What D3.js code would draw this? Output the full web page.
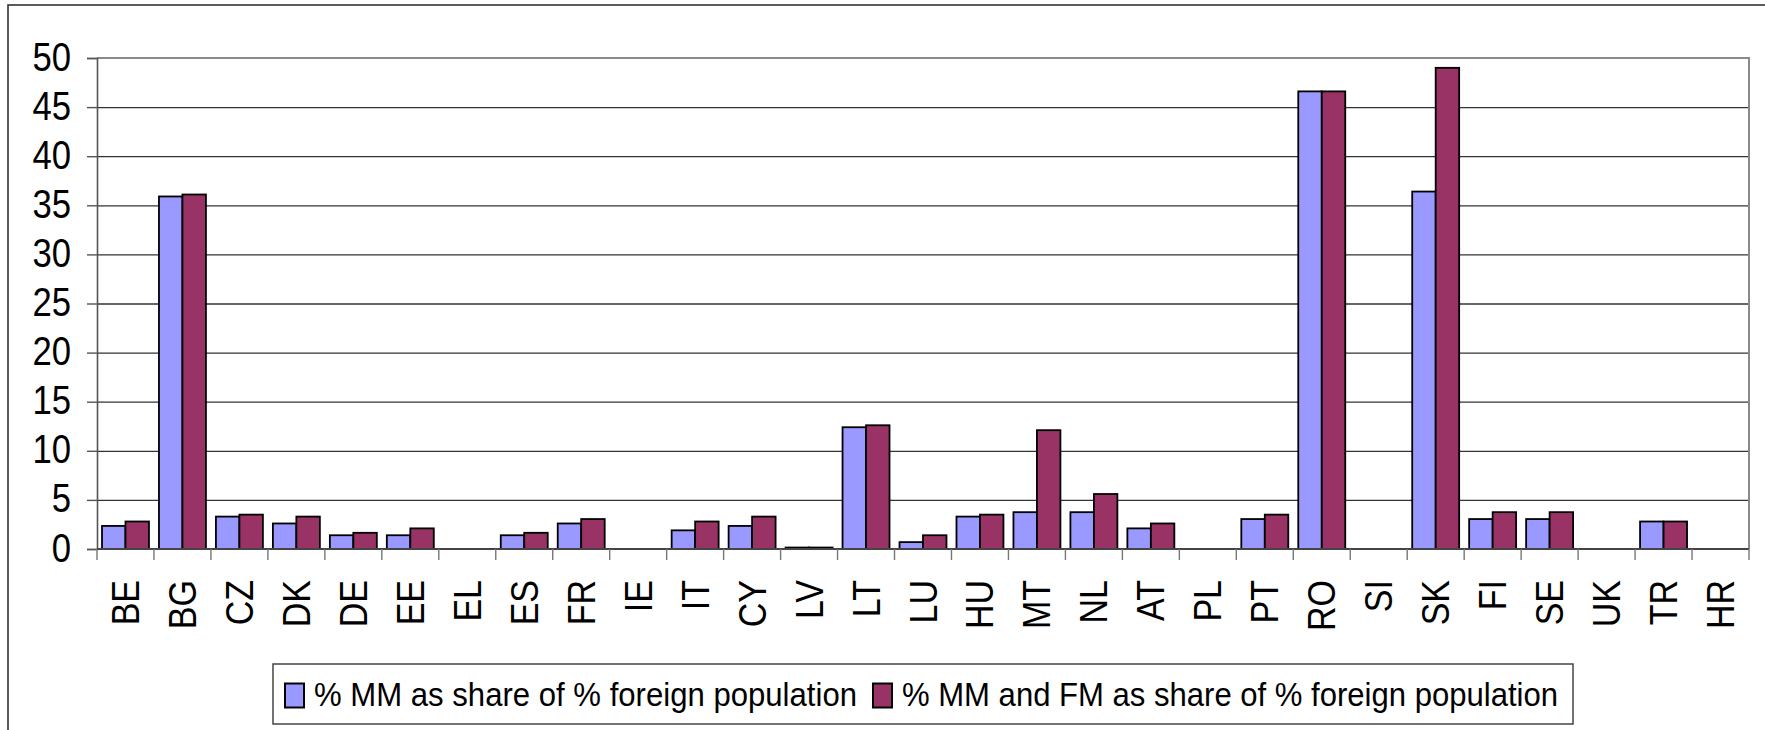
<!DOCTYPE html>
<html>
<head>
<meta charset="utf-8">
<script src="https://cdn.jsdelivr.net/npm/d3@7"></script>
<style>
    body { margin: 0; background: #fff; }
    svg { display: block; font-family: "Liberation Sans", Arial, sans-serif; }
</style>
</head>
<body>
<div class="chart"></div>
<script>
// Data
const countries = ['BE', 'BG', 'CZ', 'DK', 'DE', 'EE', 'EL', 'ES', 'FR', 'IE', 'IT', 'CY', 'LV', 'LT', 'LU',
    'HU', 'MT', 'NL', 'AT', 'PL', 'PT', 'RO', 'SI', 'SK', 'FI', 'SE', 'UK', 'TR', 'HR']
const mmShare = [2.35, 35.9, 3.3, 2.6, 1.4, 1.4, null, 1.4, 2.6, null, 1.9, 2.35, 0.15, 12.4, 0.7,
    3.3, 3.75, 3.75, 2.1, null, 3.05, 46.6, null, 36.4, 3.05, 3.05, null, 2.8, null]
const mmFmShare = [2.8, 36.1, 3.5, 3.3, 1.65, 2.1, null, 1.65, 3.05, null, 2.8, 3.3, 0.15, 12.6, 1.4,
    3.5, 12.1, 5.6, 2.6, null, 3.5, 46.6, null, 49.0, 3.75, 3.75, null, 2.8, null]
const seriesNames = ['% MM as share of % foreign population', '% MM and FM as share of % foreign population']
const yTicks = [0, 5, 10, 15, 20, 25, 30, 35, 40, 45, 50]

function draw() {
    // Dimensions
    let dimensions = {
        width: 1765,
        height: 730,
        left: 97,
        right: 1749,
        top: 58,
        bottom: 549
    }

    const svg = d3.select('.chart')
        .append('svg')
        .attr('width', dimensions.width)
        .attr('height', dimensions.height)

    // outer chart frame (runs off the picture on the right and bottom)
    svg.append('rect')
        .attr('x', 8)
        .attr('y', 5)
        .attr('width', 1900)
        .attr('height', 900)
        .attr('fill', '#fff')
        .attr('stroke', '#333')
        .attr('stroke-width', 1.6)

    const xScale = d3.scaleBand()
        .domain(countries)
        .range([dimensions.left, dimensions.right])

    // two bars inside each category
    const innerScale = d3.scaleBand()
        .domain([0, 1])
        .range([5, xScale.bandwidth() - 5])

    const yScale = d3.scaleLinear()
        .domain([0, 50])
        .range([dimensions.bottom, dimensions.top])

    // gridlines
    svg.append('g')
        .selectAll('line')
        .data(yTicks.filter(d => d > 0 && d < 50))
        .join('line')
        .attr('x1', dimensions.left)
        .attr('x2', dimensions.right)
        .attr('y1', d => yScale(d) + 0.5)
        .attr('y2', d => yScale(d) + 0.5)
        .attr('stroke', '#333')
        .attr('stroke-width', 1.3)

    // plot area border: top and right in grey
    svg.append('path')
        .attr('d', `M${dimensions.left},${yScale(50)}H${dimensions.right}V${dimensions.bottom}`)
        .attr('fill', 'none')
        .attr('stroke', '#8a8a8a')
        .attr('stroke-width', 2)

    // Bars
    const series = [mmShare, mmFmShare]
    const colors = ['#9999ff', '#993366']

    const barData = []
    countries.forEach((c, i) => {
        series.forEach((s, k) => {
            if (s[i] !== null) barData.push({ country: c, k: k, value: s[i] })
        })
    })

    svg.append('g')
        .selectAll('rect')
        .data(barData)
        .join('rect')
        .attr('x', d => xScale(d.country) + innerScale(d.k))
        .attr('y', d => yScale(d.value))
        .attr('width', innerScale.bandwidth())
        .attr('height', d => yScale(0) - yScale(d.value))
        .attr('fill', d => colors[d.k])
        .attr('stroke', '#000')
        .attr('stroke-width', 1.8)

    // Y axis
    const yAxis = d3.axisLeft(yScale)
        .tickValues(yTicks)
        .tickSize(10)
        .tickPadding(0)

    const yAxisGroup = svg.append('g')
        .attr('transform', `translate(${dimensions.left}, 0)`)
        .call(yAxis)

    yAxisGroup.select('.domain').attr('stroke', '#555').attr('stroke-width', 1.6)
    yAxisGroup.selectAll('.tick line').attr('stroke', '#555').attr('stroke-width', 1.4)
    // glyphs in the original are drawn a little taller than wide
    yAxisGroup.selectAll('.tick text')
        .attr('x', null)
        .attr('dy', null)
        .attr('transform', 'translate(-26, 12) scale(1.02, 1.18)')
        .attr('font-size', 34)
        .attr('fill', '#000')

    // X axis: ticks sit on the category boundaries
    const xAxisGroup = svg.append('g')
        .attr('transform', `translate(0, ${dimensions.bottom})`)

    xAxisGroup.append('line')
        .attr('x1', dimensions.left)
        .attr('x2', dimensions.right)
        .attr('stroke', '#444')
        .attr('stroke-width', 1.8)

    xAxisGroup.selectAll('.boundary')
        .data(countries.concat(['end']))
        .join('line')
        .classed('boundary', true)
        .attr('x1', (d, i) => i < countries.length ? xScale(d) : dimensions.right)
        .attr('x2', (d, i) => i < countries.length ? xScale(d) : dimensions.right)
        .attr('y1', 0)
        .attr('y2', 11)
        .attr('stroke', '#777')
        .attr('stroke-width', 1.4)

    xAxisGroup.selectAll('text')
        .data(countries)
        .join('text')
        .attr('transform', d => `translate(${xScale(d) + xScale.bandwidth() / 2 + 13.5}, 31) rotate(-90) scale(1, 1.16)`)
        .attr('text-anchor', 'end')
        .attr('font-size', 34)
        .attr('fill', '#000')
        .text(d => d)

    // Legend
    const legend = svg.append('g')
        .attr('transform', 'translate(273, 664)')

    legend.append('rect')
        .attr('width', 1300)
        .attr('height', 60)
        .attr('fill', '#fff')
        .attr('stroke', '#444')
        .attr('stroke-width', 1.5)

    const legendItems = [
        { swatch: 12, textX: 41, textLen: 543 },
        { swatch: 600, textX: 629, textLen: 656 }
    ]

    legendItems.forEach((item, k) => {
        legend.append('rect')
            .attr('x', item.swatch)
            .attr('y', 19.5)
            .attr('width', 19)
            .attr('height', 24)
            .attr('fill', colors[k])
            .attr('stroke', '#000')
            .attr('stroke-width', 2)

        legend.append('text')
            .attr('x', item.textX)
            .attr('y', 42)
            .attr('font-size', 33)
            .attr('fill', '#000')
            .attr('textLength', item.textLen)
            .attr('lengthAdjust', 'spacingAndGlyphs')
            .text(seriesNames[k])
    })
}

draw()
</script>
</body>
</html>
